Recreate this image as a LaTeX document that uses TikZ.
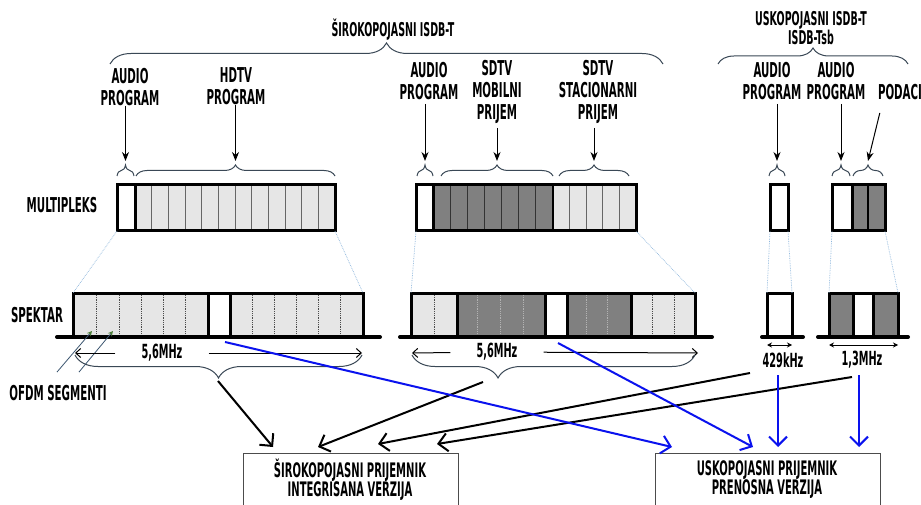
\documentclass[tikz,border=0pt]{standalone}
\usepackage{fontspec}
\setmainfont[FakeStretch=0.5]{DejaVu Sans}
\usetikzlibrary{arrows.meta,decorations.pathreplacing,calc}

\begin{document}
\begin{tikzpicture}[
  x=1pt, y=-1pt,
  font=\bfseries\fontsize{20.5}{22}\selectfont,
  lbl/.style={align=center, inner sep=0pt},
  head/.style={align=center, inner sep=0pt, font=\bfseries\fontsize{19}{17}\selectfont},
  dimtext/.style={inner sep=0pt, font=\bfseries\fontsize{19.5}{20}\selectfont},
  boxline/.style={draw, line width=3pt, inner sep=0pt, outer sep=0pt},
  cellrule/.style={line width=1pt, draw=black!60},
  specrule/.style={line width=0.8pt, densely dotted, draw=black!70},
  darkrule/.style={line width=0.8pt, densely dotted, draw=black!30},
  ground/.style={line width=4pt, line cap=round},
  guide/.style={densely dotted, line width=0.7pt, draw=guideBlue},
  curly/.style={decorate, decoration={brace, amplitude=#1}, line width=1pt, draw=braceGray},
  pick/.style={-{Stealth[length=9pt,width=7pt]}, line width=1pt},
  feed/.style={-{Straight Barb[length=9pt,width=18pt]}, line width=2pt},
  dimboth/.style={{Stealth[length=5pt,width=5pt]}-{Stealth[length=5pt,width=5pt]}, line width=0.8pt},
  dimone/.style={-{Straight Barb[length=5pt,width=9pt]}, line width=1pt},
  rxline/.style={draw=black!70, line width=1pt},
  ofdmline/.style={-{Stealth[length=5pt,width=5pt,open,color=ofdmGreen]}, line width=0.8pt, draw=ofdmSlate},
]
\definecolor{segLight}{HTML}{E6E6E6}
\definecolor{segDark}{HTML}{808080}
\definecolor{guideBlue}{HTML}{8DB6DC}
\definecolor{braceGray}{HTML}{3A4856}
\definecolor{flowBlue}{HTML}{0A12EE}
\definecolor{ofdmGreen}{HTML}{4E7F3A}
\definecolor{ofdmSlate}{HTML}{3C5670}

\fill[white] (0,0) rectangle (921,505);
\useasboundingbox (0,0) rectangle (921,505);

% headings over the two kinds of transmission
\node[head] (wideHead) at (393,30) {ŠIROKOPOJASNI ISDB-T};
\draw[curly=21] (110,64) -- (663,64);
\node[head] (narrowHead) at (811,28) {USKOPOJASNI ISDB-T\\ISDB-Tsb};
\draw[curly=16] (718,64) -- (908,64);

% what each part of the multiplex carries
\node[lbl] (aud1) at (130,87) {AUDIO\\PROGRAM};
\node[lbl] (hdtv) at (236,86) {HDTV\\PROGRAM};
\node[lbl] (aud2) at (429,81) {AUDIO\\PROGRAM};
\node[lbl] (sdtvMob) at (497,92) {SDTV\\MOBILNI\\PRIJEM};
\node[lbl] (sdtvSta) at (598,92) {SDTV\\STACIONARNI\\PRIJEM};
\node[lbl] (aud3) at (772,81) {AUDIO\\PROGRAM};
\node[lbl] (aud4) at (836,81) {AUDIO\\PROGRAM};
\node[lbl] (podaci) at (900,92) {PODACI};

\draw[curly=11] (117,176) -- (134,176);
\draw[curly=11] (136,176) -- (335,176);
\draw[curly=11] (417,176) -- (433,176);
\draw[curly=11] (441,176) -- (553,176);
\draw[curly=11] (559,176) -- (629,176);
\draw[curly=11] (769,176) -- (785,176);
\draw[curly=11] (832,176) -- (850,176);
\draw[curly=11] (853,176) -- (883,176);

\coordinate (tipAud1) at (125.5,161);
\coordinate (tipHdtv) at (235.5,161);
\coordinate (tipAud2) at (425,161);
\coordinate (tipMob) at (497,161);
\coordinate (tipSta) at (594,161);
\coordinate (tipAud3) at (777,161);
\coordinate (tipAud4) at (841,161);
\coordinate (tipData) at (868,161);
\draw[pick] (aud1.south -| tipAud1) -- (tipAud1);
\draw[pick] (hdtv.south -| tipHdtv) -- (tipHdtv);
\draw[pick] ($(aud2.south -| tipAud2)+(0,4)$) -- (tipAud2);
\draw[pick] ($(sdtvMob.south -| tipMob)+(0,4)$) -- (tipMob);
\draw[pick] ($(sdtvSta.south -| tipSta)+(0,4)$) -- (tipSta);
\draw[pick] ($(aud3.south -| tipAud3)+(0,4)$) -- (tipAud3);
\draw[pick] ($(aud4.south -| tipAud4)+(0,4)$) -- (tipAud4);
\draw[pick] ($(podaci.south west)+(2,13)$) -- (tipData);

% multiplex
\node[lbl] (muxLbl) at (62,205) {MULTIPLEKS};

\fill[segLight] (135,185) rectangle (335,231);
\foreach \i in {1,...,11} \draw[cellrule] ({135+\i*200/12},185) -- ++(0,46);
\draw[line width=3pt] (135,185) -- ++(0,46);
\node[boxline, minimum width=218pt, minimum height=46pt] (mux1) at (226,208) {};

\fill[segDark] (433,185) rectangle (553,231);
\fill[segLight] (553,185) rectangle (636,231);
\foreach \i in {1,...,6} \draw[cellrule, draw=black!80] ({433+\i*120/7},185) -- ++(0,46);
\foreach \i in {1,...,4} \draw[cellrule] ({553+\i*83/5},185) -- ++(0,46);
\draw[line width=3pt] (433,185) -- ++(0,46);
\draw[line width=2pt] (553,185) -- ++(0,46);
\node[boxline, minimum width=220pt, minimum height=46pt] (mux2) at (526,208) {};

\node[boxline, minimum width=18pt, minimum height=46pt] (mux3) at (779,208) {};

\fill[segDark] (852,185) rectangle (885,231);
\draw[line width=2pt] (868,185) -- ++(0,46);
\draw[line width=3pt] (852,185) -- ++(0,46);
\node[boxline, minimum width=53pt, minimum height=46pt] (mux4) at (858.5,208) {};

% spectrum
\node[lbl] (specLbl) at (37,315) {SPEKTAR};

\fill[segLight] (73,293) rectangle (208,337);
\fill[segLight] (230,293) rectangle (363,337);
\foreach \x in {96,119,141,163,185,252,274,296,318,340} \draw[specrule] (\x,295) -- (\x,336);
\draw[line width=3pt] (208,293) -- (208,337) (230,293) -- (230,337);
\node[boxline, minimum width=290pt, minimum height=44pt] (spec1) at (218,315) {};

\fill[segLight] (411,293) rectangle (457,337);
\fill[segDark] (457,293) rectangle (545,337);
\fill[segDark] (567,293) rectangle (631,337);
\fill[segLight] (631,293) rectangle (695,337);
\foreach \x in {434,652,674} \draw[specrule] (\x,295) -- (\x,336);
\foreach \x in {477,500,523,586,607} \draw[darkrule] (\x,295) -- (\x,336);
\draw[line width=3pt] (457,293) -- (457,337) (545,293) -- (545,337)
  (567,293) -- (567,337) (631,293) -- (631,337);
\node[boxline, minimum width=284pt, minimum height=44pt] (spec2) at (553,315) {};

\node[boxline, minimum width=25pt, minimum height=44pt] (spec3) at (779.5,315) {};

\fill[segDark] (829,293) rectangle (853,337);
\fill[segDark] (873,293) rectangle (898,337);
\draw[line width=3pt] (853,293) -- (853,337) (873,293) -- (873,337);
\node[boxline, minimum width=69pt, minimum height=44pt] (spec4) at (863.5,315) {};

\draw[ground] ([xshift=-16pt]spec1.south west) -- ([xshift=17pt]spec1.south east);
\draw[ground] ([xshift=-11pt]spec2.south west) -- ([xshift=17pt]spec2.south east);
\draw[ground] ([xshift=-5pt]spec3.south west) -- ([xshift=11pt]spec3.south east);
\draw[ground] ([xshift=-11pt]spec4.south west) -- ([xshift=10pt]spec4.south east);

\draw[guide] (mux1.south west) -- (spec1.north west);
\draw[guide] (mux1.south east) -- (spec1.north east);
\draw[guide] (mux2.south west) -- (spec2.north west);
\draw[guide] (mux2.south east) -- (spec2.north east);
\draw[guide] (mux3.south west) -- (spec3.north west);
\draw[guide] (mux3.south east) -- (spec3.north east);
\draw[guide] (mux4.south west) -- (spec4.north west);
\draw[guide] (mux4.south east) -- (spec4.north east);

% OFDM segments
\node[lbl] (ofdm) at (58,393) {OFDM SEGMENTI};
\coordinate (seg1) at (92,331);
\coordinate (seg2) at (113,331);
\draw[ofdmline] ($(ofdm.north)+(-1,-13)$) -- (seg1);
\draw[ofdmline] ($(ofdm.north)+(21,-13)$) -- (seg2);

% bandwidths
\node[dimtext, inner xsep=26pt] (bw1) at (162,353) {5,6MHz};
\coordinate (bw1l) at (75,353);
\coordinate (bw1r) at (362,353);
\draw[dimone] (bw1) -- (bw1l);
\draw[dimone] (bw1) -- (bw1r);
\draw[curly=23, decoration={mirror}] (75,355) -- (362,355);

\node[dimtext, inner xsep=26pt] (bw2) at (497,352) {5,6MHz};
\coordinate (bw2l) at (412,353);
\coordinate (bw2r) at (698,353);
\draw[dimone] (bw2) -- (bw2l);
\draw[dimone] (bw2) -- (bw2r);
\draw[curly=23, decoration={mirror, aspect=0.304}] (412,355) -- (695,355);

\draw[dimboth] ([yshift=-8pt]spec3.south west) -- ([yshift=-8pt]spec3.south east);
\node[dimtext] (khz) at (783,360) {429kHz};
\draw[dimboth] ([yshift=-8pt]spec4.south west) -- ([yshift=-8pt]spec4.south east);
\node[dimtext] (mhz) at (862,360) {1,3MHz};

% receivers
\draw[rxline] (243,453) rectangle (458,520);
\node[lbl, font=\bfseries\fontsize{20}{19}\selectfont] (wideRx) at (350,480)
  {ŠIROKOPOJASNI PRIJEMNIK\\INTEGRISANA VERZIJA};
\draw[rxline] (655,453) rectangle (880,520);
\node[lbl, font=\bfseries\fontsize{20}{19}\selectfont] (narrowRx) at (767,480)
  {USKOPOJASNI PRIJEMNIK\\PRENOSNA VERZIJA};

\coordinate (bw1tip) at (218,381);
\coordinate (bw2out) at (483,382);
\coordinate (khzOut) at (750,373);
\coordinate (mhzOut) at (852,377);
\coordinate (gap1) at (225,342);
\coordinate (gap2) at (558,343);
\coordinate (khzDown) at (778,375);
\coordinate (mhzDown) at (859,375);

\coordinate (wideIn1) at (273,447);
\coordinate (wideIn2) at (318,447);
\coordinate (wideIn3) at (378,444);
\coordinate (wideIn4) at (437,444);
\coordinate (narrowIn1) at (672,447);
\coordinate (narrowIn2) at (753,447);
\coordinate (narrowIn3) at (778,447);
\coordinate (narrowIn4) at (859,447);

\draw[feed] (bw1tip) -- (wideIn1);
\draw[feed] (bw2out) -- (wideIn2);
\draw[feed] (khzOut) -- (wideIn3);
\draw[feed] (mhzOut) -- (wideIn4);
\draw[feed, draw=flowBlue] (gap1) -- (narrowIn1);
\draw[feed, draw=flowBlue] (gap2) -- (narrowIn2);
\draw[feed, draw=flowBlue] (khzDown) -- (narrowIn3);
\draw[feed, draw=flowBlue] (mhzDown) -- (narrowIn4);
\end{tikzpicture}
\end{document}
